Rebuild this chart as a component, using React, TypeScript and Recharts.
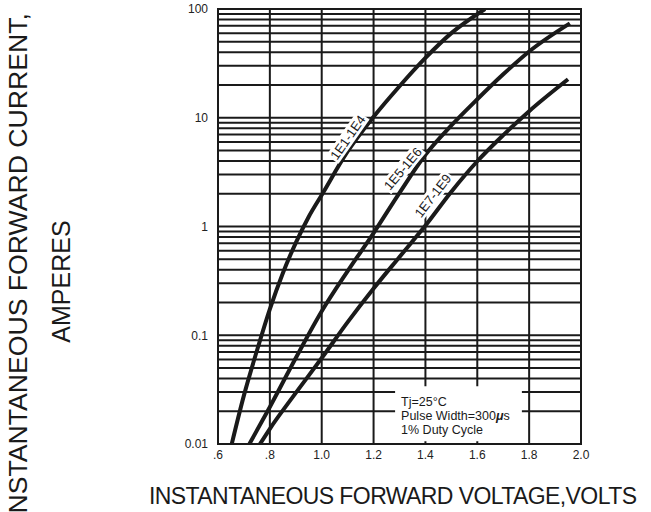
import React from "react";
import {
  CartesianGrid,
  Line,
  LineChart,
  ReferenceArea,
  ReferenceDot,
  XAxis,
  YAxis,
} from "recharts";

const FONT = '"Liberation Sans", Arial, Helvetica, sans-serif';

// forward voltage (V) / current (A)
const curve1V = [0.653, 0.7, 0.75, 0.8, 0.85, 0.9, 0.95, 1.0, 1.1, 1.2, 1.3, 1.4, 1.5, 1.63];
const curve1I = [0.01, 0.028, 0.072, 0.174, 0.372, 0.708, 1.23, 1.95, 4.9, 10.2, 19.5, 35.5, 60, 100];

const curve2V = [0.721, 0.8, 0.9, 1.0, 1.1, 1.2, 1.3, 1.4, 1.5, 1.6, 1.7, 1.8, 1.957];
const curve2I = [0.01, 0.0219, 0.0617, 0.166, 0.389, 0.871, 2.04, 4.57, 8.5, 14.8, 25.1, 40.7, 73.8];

const curve3V = [0.762, 0.8, 0.9, 1.0, 1.1, 1.2, 1.3, 1.4, 1.5, 1.6, 1.7, 1.8, 1.95];
const curve3I = [0.01, 0.0138, 0.0295, 0.0617, 0.132, 0.269, 0.525, 1.02, 2.09, 3.98, 6.92, 11.5, 22.6];

const curveNames = ["1E1-1E4", "1E5-1E6", "1E7-1E9"];

const xTicks = [0.6, 0.8, 1.0, 1.2, 1.4, 1.6, 1.8, 2.0];
const xLabels = [".6", ".8", "1.0", "1.2", "1.4", "1.6", "1.8", "2.0"];

const yGridTicks = [
  0.01, 0.02, 0.03, 0.04, 0.05, 0.06, 0.07, 0.08, 0.09,
  0.1, 0.2, 0.3, 0.4, 0.5, 0.6, 0.7, 0.8, 0.9,
  1, 2, 3, 4, 5, 6, 7, 8, 9,
  10, 20, 30, 40, 50, 60, 70, 80, 90,
  100,
];
const yLabelValues = [0.01, 0.1, 1, 10, 100];
const yLabels = ["0.01", "0.1", "1", "10", "100"];

const noteLines = ["Tj=25°C", "Pulse Width=300", "1% Duty Cycle"];

const toRows = (vs: number[], is: number[]) => vs.map((v, k) => ({ v, i: is[k] }));
const rows1 = toRows(curve1V, curve1I);
const rows2 = toRows(curve2V, curve2I);
const rows3 = toRows(curve3V, curve3I);

const yLabelFor = (v: number) => {
  const k = yLabelValues.findIndex((t) => Math.abs(t - v) / t < 1e-6);
  return k >= 0 ? yLabels[k] : "";
};
const xLabelFor = (v: number) => {
  const k = xTicks.findIndex((t) => Math.abs(t - v) < 1e-6);
  return k >= 0 ? xLabels[k] : "";
};

function CurveTag({ cx, cy, text, angle }: { cx: number; cy: number; text: string; angle: number }) {
  const w = 54;
  return (
    <g transform={`translate(${cx},${cy}) rotate(${angle})`}>
      <rect x={-w / 2} y={-7.5} width={w} height={15} fill="#fff" />
      <text
        x={0}
        y={0}
        textAnchor="middle"
        dominantBaseline="central"
        fontSize={13}
        fontFamily={FONT}
        fill="#1a1a1a"
      >
        {text}
      </text>
    </g>
  );
}

function NoteText(props: any) {
  const vb = props.viewBox || {};
  const x = vb.x + 6;
  const y = vb.y;
  const style = { fontSize: 12.5, fontFamily: FONT, fill: "#1a1a1a" };
  return (
    <g>
      <text x={x} y={y + 20} {...style}>
        {noteLines[0]}
      </text>
      <text x={x} y={y + 33.7} {...style}>
        {noteLines[1]}
        <tspan fontStyle="italic" fontWeight="bold">μ</tspan>s
      </text>
      <text x={x} y={y + 47.4} {...style}>
        {noteLines[2]}
      </text>
    </g>
  );
}

export default function App() {
  return (
    <div
      style={{
        position: "absolute",
        left: 0,
        top: 0,
        width: 651,
        height: 512,
        background: "#fff",
        overflow: "hidden",
      }}
    >
      <LineChart
        width={651}
        height={512}
        margin={{ top: 9, right: 70, bottom: 38, left: 0 }}
      >
        <CartesianGrid stroke="#1a1a1a" strokeWidth={2} />
        <XAxis
          type="number"
          dataKey="v"
          domain={[0.6, 2.0]}
          ticks={xTicks}
          interval={0}
          tickFormatter={xLabelFor}
          axisLine={false}
          tickLine={false}
          height={30}
          tickMargin={0}
          tick={{ fontSize: 12, fill: "#222", fontFamily: FONT }}
          allowDataOverflow
        />
        <YAxis
          type="number"
          scale="log"
          domain={[0.01, 100]}
          ticks={yGridTicks}
          interval={0}
          tickFormatter={yLabelFor}
          axisLine={false}
          tickLine={false}
          width={218}
          tickMargin={4}
          tick={{ fontSize: 12, fill: "#222", fontFamily: FONT }}
          allowDataOverflow
        />
        <ReferenceArea
          x1={1.283}
          x2={1.772}
          y1={0.0106}
          y2={0.034}
          fill="#fff"
          fillOpacity={1}
          stroke="none"
          label={{ content: NoteText }}
        />
        <ReferenceArea
          x1={0.6}
          x2={2.0}
          y1={0.01}
          y2={100}
          fill="none"
          stroke="#1a1a1a"
          strokeWidth={2}
        />
        <ReferenceDot
          x={1.101}
          y={6.6}
          r={0}
          shape={(p: any) => <CurveTag cx={p.cx} cy={p.cy} text={curveNames[0]} angle={-55} />}
        />
        <ReferenceDot
          x={1.313}
          y={3.4}
          r={0}
          shape={(p: any) => <CurveTag cx={p.cx} cy={p.cy} text={curveNames[1]} angle={-50} />}
        />
        <ReferenceDot
          x={1.429}
          y={1.92}
          r={0}
          shape={(p: any) => <CurveTag cx={p.cx} cy={p.cy} text={curveNames[2]} angle={-52} />}
        />
        <Line
          data={rows1}
          dataKey="i"
          type="monotone"
          stroke="#1a1a1a"
          strokeWidth={4}
          dot={false}
          isAnimationActive={false}
        />
        <Line
          data={rows2}
          dataKey="i"
          type="monotone"
          stroke="#1a1a1a"
          strokeWidth={4}
          dot={false}
          isAnimationActive={false}
        />
        <Line
          data={rows3}
          dataKey="i"
          type="monotone"
          stroke="#1a1a1a"
          strokeWidth={4}
          dot={false}
          isAnimationActive={false}
        />
      </LineChart>

      <svg
        width={651}
        height={512}
        style={{ position: "absolute", left: 0, top: 0, pointerEvents: "none" }}
      >
        <text
          x={27}
          y={13}
          transform="rotate(-90, 27, 13)"
          textAnchor="end"
          fontSize={26}
          fontFamily={FONT}
          fill="#1a1a1a"
          textLength={508}
          lengthAdjust="spacingAndGlyphs"
        >
          INSTANTANEOUS FORWARD CURRENT,
        </text>
        <text
          x={70}
          y={281.5}
          transform="rotate(-90, 70, 281.5)"
          textAnchor="middle"
          fontSize={25}
          fontFamily={FONT}
          fill="#1a1a1a"
        >
          AMPERES
        </text>
        <text
          x={393}
          y={504}
          textAnchor="middle"
          fontSize={23}
          fontFamily={FONT}
          fill="#1a1a1a"
          textLength={488}
          lengthAdjust="spacing"
        >
          INSTANTANEOUS FORWARD VOLTAGE,VOLTS
        </text>
      </svg>
    </div>
  );
}
